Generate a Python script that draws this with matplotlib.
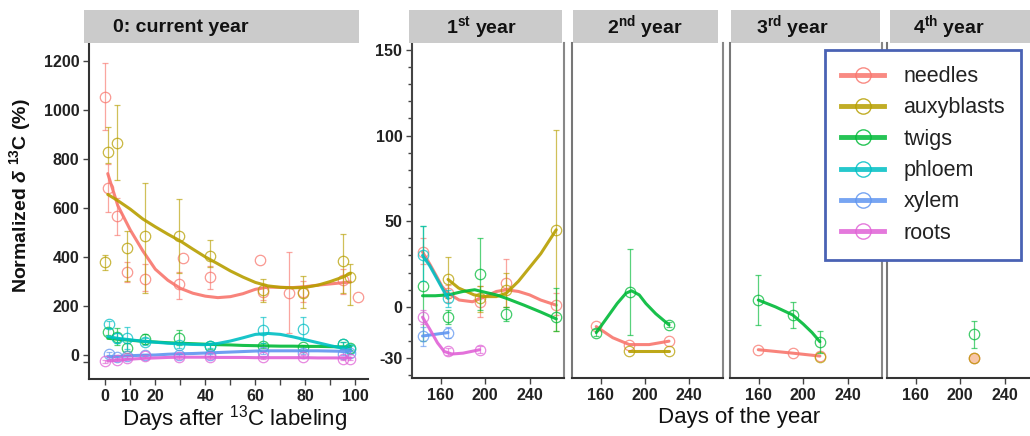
import numpy as np
import matplotlib
matplotlib.use("agg")
import matplotlib.pyplot as plt
from matplotlib.lines import Line2D

plt.rcParams['font.family'] = ['Liberation Sans', 'DejaVu Sans']
plt.rcParams['mathtext.fontset'] = 'custom'
plt.rcParams['mathtext.rm'] = 'Liberation Sans'
plt.rcParams['mathtext.bf'] = 'Liberation Sans:bold'
plt.rcParams['mathtext.it'] = 'Liberation Sans:bold:italic'

tissues = ['needles', 'auxyblasts', 'twigs', 'phloem', 'xylem', 'roots']
colors = ['#F8766D', '#B79F00', '#00BA38', '#00BFC4', '#5F95F0', '#E062D6']

# ---- panel 0: days after 13C labeling ----
needles_d0 = [0, 1, 4.5, 8.5, 16, 29.5, 31, 42, 62, 63, 73.5, 79, 95, 101]
needles_v0 = [1053, 683, 567, 340, 312, 288, 397, 320, 388, 258, 251, 258, 305, 236]
needles_lo0 = [918, 585, 490, 298, 260, 230, 397, 270, 388, 225, 90, 215, 250, 236]
needles_hi0 = [1190, 780, 640, 380, 370, 340, 397, 365, 388, 290, 422, 300, 350, 236]

auxy_d0 = [0, 1, 4.5, 8.5, 16, 29.5, 42, 63, 79, 95, 98]
auxy_v0 = [378, 828, 866, 435, 487, 486, 403, 265, 251, 383, 320]
auxy_lo0 = [347, 785, 714, 300, 254, 335, 360, 218, 190, 253, 204]
auxy_hi0 = [408, 931, 1020, 505, 703, 636, 468, 310, 324, 493, 371]

twigs_d0 = [1, 4.5, 8.5, 16, 29.5, 42, 63, 79, 95, 98]
twigs_v0 = [95, 75, 30, 65, 70, 35, 37, 32, 45, 30]
twigs_lo0 = [80, 40, 15, 45, 40, 25, 27, 22, 35, 20]
twigs_hi0 = [110, 110, 50, 85, 100, 45, 47, 42, 55, 40]

phloem_d0 = [1.5, 4.5, 8.5, 16, 29.5, 42, 63, 79, 95, 98]
phloem_v0 = [125, 70, 70, 55, 40, 38, 100, 105, 45, 25]
phloem_lo0 = [110, 50, 25, 40, 30, 30, 48, 60, 35, 15]
phloem_hi0 = [140, 90, 115, 70, 50, 46, 154, 154, 55, 35]

xylem_d0 = [1.5, 4.5, 8.5, 16, 29.5, 42, 63, 79, 95, 98]
xylem_v0 = [5, -10, -5, 0, 0, 0, 12, 10, 5, 10]
xylem_lo0 = [-2, -16, -11, -6, -6, -6, 6, 4, -1, 4]
xylem_hi0 = [12, -4, 1, 6, 6, 6, 18, 16, 11, 16]

roots_d0 = [0, 4.5, 8.5, 16, 29.5, 42, 63, 79, 95, 98]
roots_v0 = [-25, -20, -12, -5, -10, -10, -10, -8, -15, -15]
roots_lo0 = [-31, -26, -18, -11, -16, -16, -16, -14, -21, -21]
roots_hi0 = [-19, -14, -6, 1, -4, -4, -4, -2, -9, -9]

# smoothed curves
fit_d0 = [1, 5, 10, 15, 20, 25, 30, 35, 40, 45, 50, 55, 60, 65, 70, 75, 80, 85, 90, 95, 98]
needles_fit0 = [740, 610, 510, 425, 350, 305, 272, 252, 240, 234, 238, 250, 268, 277, 276, 275, 279, 285, 290, 295, 298]
auxy_fit0 = [655, 630, 595, 555, 523, 493, 465, 432, 400, 372, 343, 318, 296, 282, 276, 274, 276, 285, 300, 318, 333]
twigs_fit0 = [68, 64, 60, 56, 53, 50, 48, 46, 44, 42, 41, 39, 38, 37, 36, 36, 35, 35, 34, 33, 33]
phloem_fit0 = [75, 68, 62, 56, 52, 48, 45, 43, 42, 47, 57, 70, 84, 88, 84, 74, 62, 50, 38, 27, 22]
xylem_fit0 = [-8, -6, -3, -1, 0, 3, 5, 6, 8, 10, 12, 14, 16, 17, 17, 17, 17, 17, 16, 15, 15]
roots_fit0 = [-25, -21, -17, -14, -12, -10, -9, -9, -9, -10, -10, -10, -11, -11, -11, -11, -11, -12, -12, -12, -12]

# ---- 1st year ----
needles_d1 = [143.5, 166.5, 195, 219, 264]
needles_v1 = [32, 8, 3, 14, 1]
needles_lo1 = [25, 3, -6, 0, -5]
needles_hi1 = [40, 13, 12, 28, 8]
auxy_d1 = [166.5, 195, 219, 264]
auxy_v1 = [16, 5, 10, 45]
auxy_lo1 = [5, -3, 0, -14]
auxy_hi1 = [29, 12, 20, 103]
twigs_d1 = [143.5, 166.5, 195, 219, 264]
twigs_v1 = [12, -6, 19, -4, -6]
twigs_lo1 = [-20, -10, -2, -8, -14]
twigs_hi1 = [47, -2, 40, 0, 11]
phloem_d1 = [143.5, 166.5]
phloem_v1 = [30, 5]
phloem_lo1 = [15, 0]
phloem_hi1 = [47, 10]
xylem_d1 = [143.5, 166.5]
xylem_v1 = [-17, -15]
xylem_lo1 = [-23, -18]
xylem_hi1 = [-12, -12]
roots_d1 = [143.5, 166.5, 195]
roots_v1 = [-6, -26, -25]
roots_lo1 = [-10, -28, -27]
roots_hi1 = [-2, -24, -23]

needles_fx1 = [143.5, 150, 156, 161, 166.5, 176.5, 188.5, 200, 210, 219, 230, 240, 250, 264]
needles_fy1 = [32, 25, 18, 12, 8, 4, 3, 6, 9, 10, 9, 7, 4, 1]
auxy_fx1 = [166.5, 176, 190, 200, 210, 219, 230, 240, 250, 264]
auxy_fy1 = [16, 11, 7, 6, 6, 8, 15, 23, 31, 45]
twigs_fx1 = [143.5, 155, 166.5, 180, 190.5, 200, 210, 219, 235, 250, 264]
twigs_fy1 = [6.5, 6.5, 7, 9, 10, 8.5, 7, 5, 1, -3, -7]
phloem_fx1 = [143.5, 150, 156, 162, 166.5]
phloem_fy1 = [30, 24, 17, 10, 5]
xylem_fx1 = [143.5, 166.5]
xylem_fy1 = [-17, -15]
roots_fx1 = [143.5, 150, 157, 163, 170, 180, 195]
roots_fy1 = [-6, -13, -21, -26, -27.5, -27, -25]

# ---- 2nd year ----
needles_d2 = [156, 186, 222]
needles_v2 = [-11, -22, -20]
auxy_d2 = [186, 222]
auxy_v2 = [-26, -26]
twigs_d2 = [156, 187, 222]
twigs_v2 = [-15, 8.5, -10.5]
twigs_lo2 = [-17, -16.5, -12]
twigs_hi2 = [-13, 33.7, -9]
needles_fx2 = [156, 171, 186, 204, 222]
needles_fy2 = [-11.5, -18, -22, -22, -20]
twigs_fx2 = [156, 165, 175, 183, 188, 195, 201, 210, 222]
twigs_fy2 = [-15, -7, 2, 8, 9.4, 7, 2, -4, -10.5]

# ---- 3rd year ----
twigs_d3 = [159.5, 190.5, 215]
twigs_v3 = [4, -4.7, -20.3]
twigs_lo3 = [-10.5, -12.5, -27]
twigs_hi3 = [18.7, 2.7, -14]
needles_d3 = [159.5, 190.5, 215]
needles_v3 = [-25, -27, -28.7]
auxy_d3 = [215]
auxy_v3 = [-29.4]
twigs_fx3 = [159.5, 175, 190.5, 200, 208, 215]
twigs_fy3 = [4, 0, -4.7, -10, -15, -20.3]

# ---- 4th year ----
twigs_d4 = [212]
twigs_v4 = [-16]
twigs_lo4 = [-24]
twigs_hi4 = [-8]
needles_d4 = [212]
needles_v4 = [-30]
auxy_d4 = [212]
auxy_v4 = [-30]

W, H = 1030, 436


def box(l, t, r, b):
    return [l / W, 1 - b / H, (r - l) / W, (b - t) / H]


def draw(ax, col, x, v, lo=None, hi=None, fx=None, fy=None, fill='none'):
    if lo is None:
        lo, hi = v, v
    dn = [a - b for a, b in zip(v, lo)]
    up = [b - a for a, b in zip(v, hi)]
    has = [d > 0 or u > 0 for d, u in zip(dn, up)]
    if any(has):
        ex = [a for a, h in zip(x, has) if h]
        ev = [a for a, h in zip(v, has) if h]
        ed = [a for a, h in zip(dn, has) if h]
        eu = [a for a, h in zip(up, has) if h]
        ax.errorbar(ex, ev, yerr=[ed, eu], fmt='none',
                    ecolor=col, elinewidth=0.9, capsize=2.5, capthick=0.9, alpha=0.65)
    ax.plot(x, v, 'o', mfc=fill, mec=col, ms=7.5, mew=0.9, alpha=0.75)
    if fx is not None:
        ax.plot(fx, fy, color=col, lw=2.2, alpha=0.9, solid_capstyle='round')


def strip(l, r, label, rel):
    s = fig.add_axes(box(l, 10, r, 43))
    s.set_facecolor('#cbcbcb')
    s.set_xticks([])
    s.set_yticks([])
    for sp in s.spines.values():
        sp.set_visible(False)
    s.text(rel, 0.48, label, ha='center', va='center', fontsize=14, fontweight='bold', color='#111')


fig = plt.figure(figsize=(10.3, 4.36), dpi=100)

# left panel
ax0 = fig.add_axes(box(89, 43, 368, 379))
draw(ax0, colors[0], needles_d0, needles_v0, needles_lo0, needles_hi0, fit_d0, needles_fit0)
draw(ax0, colors[1], auxy_d0, auxy_v0, auxy_lo0, auxy_hi0, fit_d0, auxy_fit0)
draw(ax0, colors[2], twigs_d0, twigs_v0, twigs_lo0, twigs_hi0, fit_d0, twigs_fit0)
draw(ax0, colors[3], phloem_d0, phloem_v0, phloem_lo0, phloem_hi0, fit_d0, phloem_fit0)
draw(ax0, colors[4], xylem_d0, xylem_v0, xylem_lo0, xylem_hi0, fit_d0, xylem_fit0)
draw(ax0, colors[5], roots_d0, roots_v0, roots_lo0, roots_hi0, fit_d0, roots_fit0)
ax0.set_xlim(-6.5, 105)
ax0.set_ylim(-98, 1273)
ax0.set_yticks([0, 200, 400, 600, 800, 1000, 1200], ['0', '200', '400', '600', '800', '1000', '1200'],
               fontweight='bold')
ax0.set_yticks([-30], minor=True)
xt = list(range(0, 101, 10))
ax0.set_xticks(xt, [str(t) if t in (0, 10, 20, 40, 60, 80, 100) else '' for t in xt], fontweight='bold')
ax0.spines[['top', 'right']].set_visible(False)

# right panels
ax1 = fig.add_axes(box(412, 43, 564, 378))
ax2 = fig.add_axes(box(572, 43, 723, 378))
ax3 = fig.add_axes(box(730, 43, 882, 378))
ax4 = fig.add_axes(box(887, 43, 1039, 378))

draw(ax1, colors[0], needles_d1, needles_v1, needles_lo1, needles_hi1, needles_fx1, needles_fy1)
draw(ax1, colors[1], auxy_d1, auxy_v1, auxy_lo1, auxy_hi1, auxy_fx1, auxy_fy1)
draw(ax1, colors[2], twigs_d1, twigs_v1, twigs_lo1, twigs_hi1, twigs_fx1, twigs_fy1)
draw(ax1, colors[3], phloem_d1, phloem_v1, phloem_lo1, phloem_hi1, phloem_fx1, phloem_fy1)
draw(ax1, colors[4], xylem_d1, xylem_v1, xylem_lo1, xylem_hi1, xylem_fx1, xylem_fy1)
draw(ax1, colors[5], roots_d1, roots_v1, roots_lo1, roots_hi1, roots_fx1, roots_fy1)

draw(ax2, colors[0], needles_d2, needles_v2, fx=needles_fx2, fy=needles_fy2)
draw(ax2, colors[1], auxy_d2, auxy_v2, fx=auxy_d2, fy=auxy_v2)
draw(ax2, colors[2], twigs_d2, twigs_v2, twigs_lo2, twigs_hi2, twigs_fx2, twigs_fy2)

draw(ax3, colors[0], needles_d3, needles_v3, fx=needles_d3, fy=needles_v3)
draw(ax3, colors[1], auxy_d3, auxy_v3)
draw(ax3, colors[2], twigs_d3, twigs_v3, twigs_lo3, twigs_hi3, twigs_fx3, twigs_fy3)

draw(ax4, colors[2], twigs_d4, twigs_v4, twigs_lo4, twigs_hi4)
draw(ax4, colors[0], needles_d4, needles_v4, fill='#F6B48A')
draw(ax4, colors[1], auxy_d4, auxy_v4)

for ax in (ax1, ax2, ax3, ax4):
    ax.set_xlim(134, 271)
    ax.set_ylim(-41.5, 154)
    ax.set_xticks([160, 200, 240], ['160', '200', '240'], fontweight='bold')
    ax.spines['top'].set_visible(False)
    ax.spines['left'].set_color('#777')
    ax.spines['right'].set_color('#888')
    ax.tick_params(axis='y', left=False, labelleft=False)

ax1.set_yticks([-30, 0, 50, 100, 150], ['-30', '0', '50', '100', '150'], fontweight='bold')
ax1.set_yticks(range(-40, 151, 10), minor=True)
ax1.tick_params(axis='y', left=True, labelleft=True)
ax1.spines['left'].set_color('#444')
ax4.spines['right'].set_visible(False)

for ax in (ax0, ax1, ax2, ax3, ax4):
    ax.set_facecolor('white')
    ax.tick_params(which='both', labelsize=11.5, length=4, width=1, color='#444', labelcolor='#222', pad=3)
    ax.spines['left'].set_linewidth(1.5)
    ax.spines['bottom'].set_linewidth(1.5)
    ax.spines['right'].set_linewidth(1.5)
    ax.spines['bottom'].set_color('#333')
ax0.spines['left'].set_color('#333')
ax1.tick_params(axis='y', which='minor', length=3)

# facet strips
strip(84, 359, '0: current year', 0.353)
strip(409, 562, r'1$^{\mathbf{st}}$ year', 0.471)
strip(573, 718, r'2$^{\mathbf{nd}}$ year', 0.497)
strip(731, 880, r'3$^{\mathbf{rd}}$ year', 0.413)
strip(890, 1040, r'4$^{\mathbf{th}}$ year', 0.39)

# axis titles
fig.text(20 / W, 1 - 196 / H, r'Normalized $\mathit{\delta}$ $^{\mathbf{13}}$C (%)', rotation=90,
         fontsize=14, fontweight='bold', ha='center', va='center', color='#111')
fig.text(235 / W, 1 - 419 / H, r'Days after $^{13}$C labeling', fontsize=16, ha='center', va='center', color='#111')
fig.text(739 / W, 1 - 417 / H, 'Days of the year', fontsize=16, ha='center', va='center', color='#111')

# legend
handles = [Line2D([], [], color=c, lw=3.5, marker='o', ms=11, mfc='none', mec=c, mew=1.0, alpha=0.85)
           for c in colors]
leg = fig.legend(handles, tissues, loc='upper left', bbox_to_anchor=(825 / W, 1 - 50 / H),
                 borderaxespad=0, frameon=True, fancybox=False, framealpha=1, edgecolor='#4a62b4',
                 fontsize=15.5, handlelength=2.0, handletextpad=0.9, labelspacing=0.48, borderpad=0.75)
leg.get_frame().set_linewidth(2)
for t in leg.get_texts():
    t.set_color('#222')

fig.savefig('out.png', dpi=100)
